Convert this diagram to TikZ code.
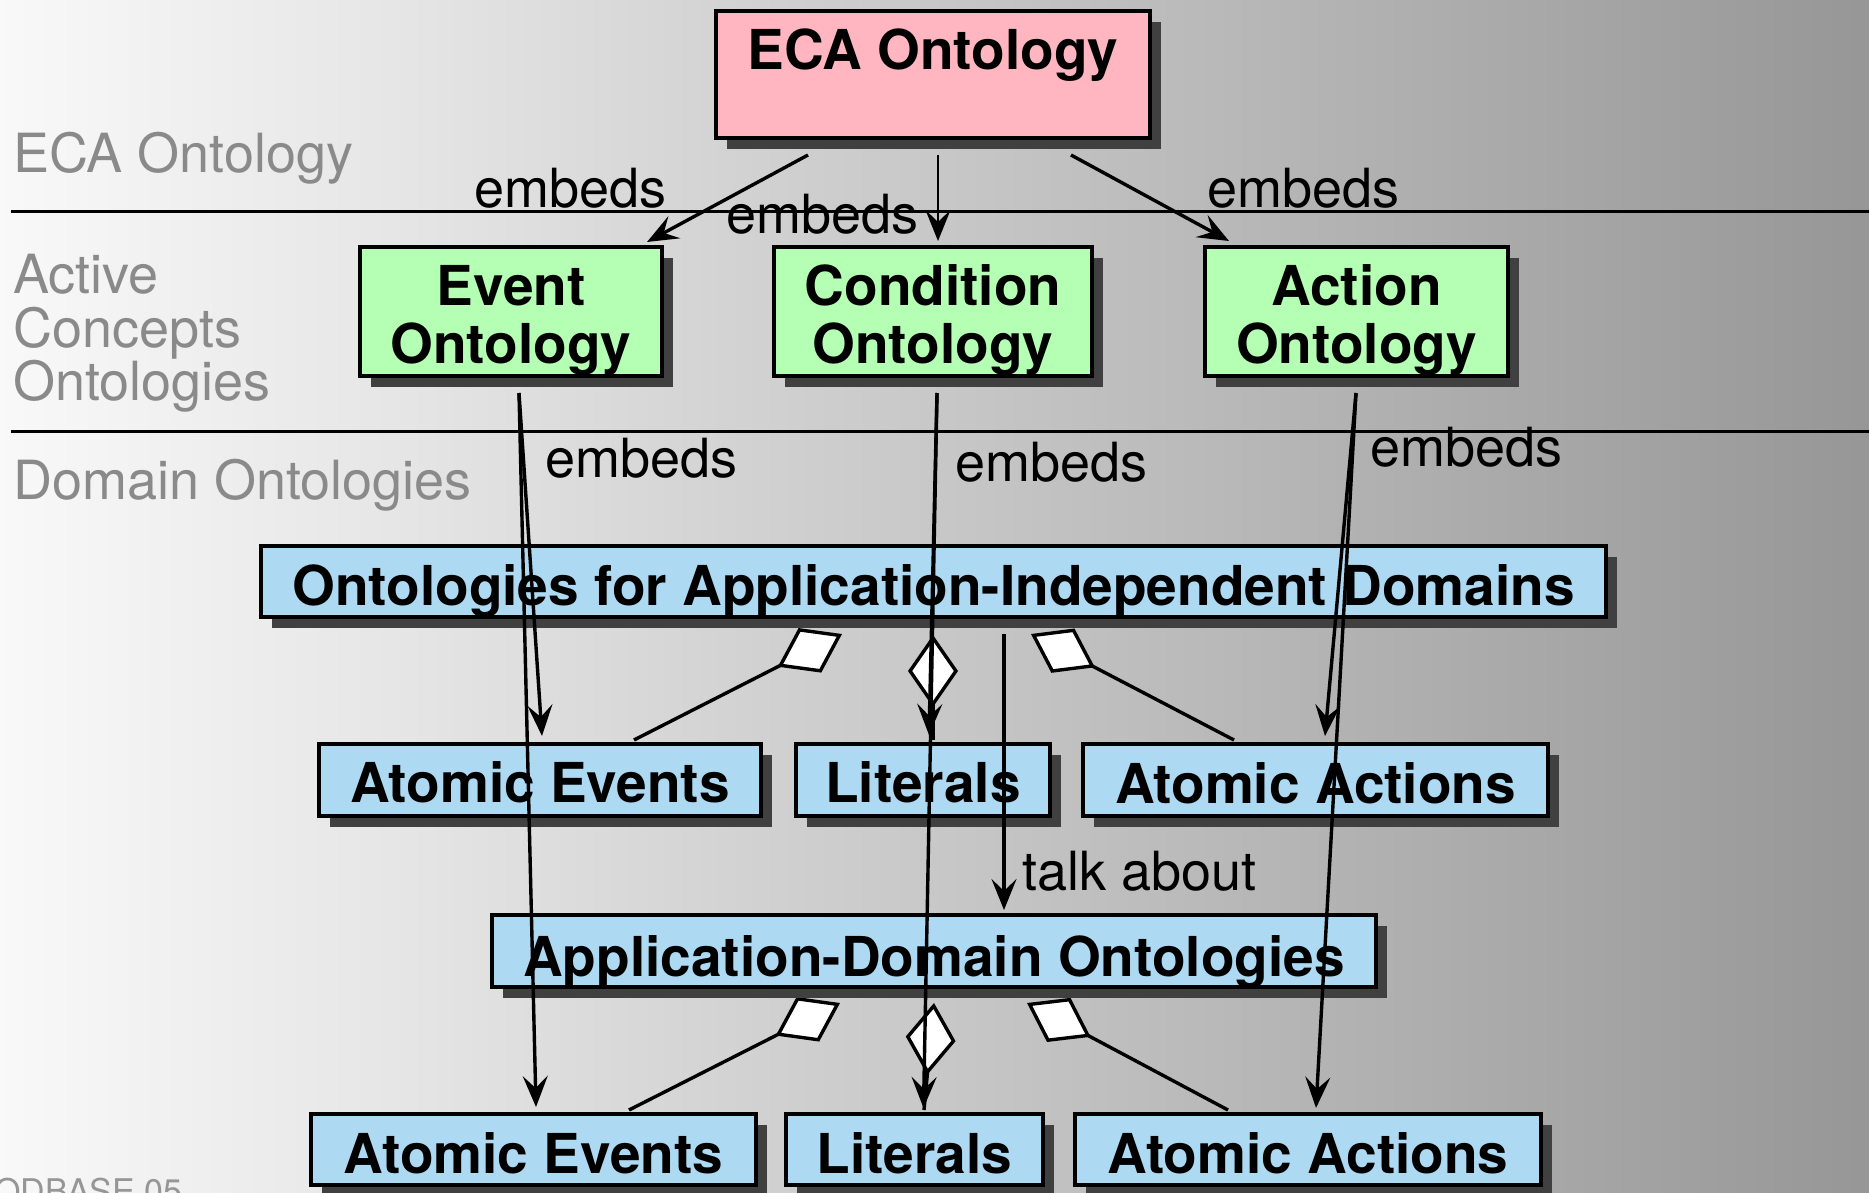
\documentclass[tikz,border=0pt]{standalone}
\usepackage{fontspec}
\setmainfont{TeX Gyre Heros}
\usetikzlibrary{arrows.meta,shadows}

\definecolor{ecapink}{RGB}{255,182,193}
\definecolor{conceptgreen}{RGB}{180,255,180}
\definecolor{domainblue}{RGB}{173,217,242}
\definecolor{boxshadow}{RGB}{64,64,64}
\definecolor{layergray}{RGB}{138,138,138}
\definecolor{footgray}{RGB}{150,150,150}
\definecolor{bgA}{gray}{0.975}
\definecolor{bgB}{gray}{0.90}
\definecolor{bgC}{gray}{0.81}
\definecolor{bgD}{gray}{0.59}
% TikZ fits the 25bp--75bp band of a shading to the filled path
\pgfdeclarehorizontalshading{backdrop}{100bp}{color(0bp)=(bgA); color(25bp)=(bgA); color(35.7bp)=(bgB); color(46.5bp)=(bgC); color(75bp)=(bgD); color(100bp)=(bgD)}

\newcommand\boxfont{\fontsize{55}{58}\selectfont\bfseries}
\newcommand\plainfont{\fontsize{54}{58}\selectfont}
\newcommand\footfont{\fontsize{34}{36}\selectfont}

\begin{document}
\begin{tikzpicture}[x=1pt,y=-1pt,
  boxbase/.style={draw=black, line width=4pt, inner sep=0pt,
    general shadow={fill=boxshadow, shadow xshift=11pt, shadow yshift=-11pt}},
  ecabox/.style={boxbase, fill=ecapink},
  conceptbox/.style={boxbase, fill=conceptgreen, minimum width=302pt, minimum height=129pt},
  domainbox/.style={boxbase, fill=domainblue, minimum height=72pt},
  boxtext/.style={inner sep=0pt, anchor=base, font=\boxfont},
  layername/.style={inner sep=0pt, anchor=base west, font=\plainfont, text=layergray},
  reltext/.style={inner sep=0pt, anchor=base west, font=\plainfont},
  embedarrow/.style={line width=3.4pt, -{Stealth[length=31pt,width=25pt,inset=12pt]}},
  partof/.style={line width=3.4pt, {Diamond[length=72pt,width=50pt,fill=white]}-},
  separator/.style={line width=3pt}
]
\useasboundingbox (0,0) rectangle (1869,1193);
\clip (0,0) rectangle (1869,1193);

% backdrop and layer separators
\fill[shading=backdrop] (0,0) rectangle (1869,1193);
\coordinate (sepAl) at (11,212);
\coordinate (sepAr) at (1869,212);
\coordinate (sepBl) at (11,431);
\coordinate (sepBr) at (1869,431);
\draw[separator] (sepAl) -- (sepAr);
\draw[separator] (sepBl) -- (sepBr);

% layer names
\node[layername] (lnEca) at (13,173) {ECA Ontology};
\node[layername] (lnAct1) at (13,293) {Active};
\node[layername] (lnAct2) at (13,347) {Concepts};
\node[layername] (lnAct3) at (13,400) {Ontologies};
\node[layername] (lnDom) at (13,499) {Domain Ontologies};
\node[inner sep=0pt, anchor=base west, font=\footfont, text=footgray] (foot) at (-6,1203) {ODBASE 05};

% boxes (geometry only; captions are set separately)
\node[ecabox, minimum width=434pt, minimum height=127pt] (eca) at (933,74.5) {};
\node[conceptbox] (ev) at (511,311.5) {};
\node[conceptbox, minimum width=318pt] (cond) at (933,311.5) {};
\node[conceptbox, minimum width=303pt] (act) at (1356.5,311.5) {};
\node[domainbox, minimum width=1345pt, minimum height=71pt] (ind) at (933.5,581.5) {};
\node[domainbox, minimum width=442pt] (ae1) at (540,780) {};
\node[domainbox, minimum width=254pt] (lit1) at (923,780) {};
\node[domainbox, minimum width=465pt] (aa1) at (1315.5,780) {};
\node[domainbox, minimum width=884pt] (app) at (934,951) {};
\node[domainbox, minimum width=445pt, minimum height=71pt] (ae2) at (533.5,1149.5) {};
\node[domainbox, minimum width=257pt, minimum height=71pt] (lit2) at (914.5,1149.5) {};
\node[domainbox, minimum width=466pt, minimum height=71pt] (aa2) at (1308,1149.5) {};

% aggregation: parts of the domain ontologies
\draw[partof] ([shift={(-91.5,15)}]ind.south) -- ([shift={(94,-2)}]ae1.north);
\draw[partof] ([shift={(-0.5,16)}]ind.south) -- ([shift={(10,-2)}]lit1.north);
\draw[partof] ([shift={(97.5,15)}]ind.south) -- ([shift={(-81.5,-2)}]aa1.north);
\draw[partof] ([shift={(-94,14)}]app.south) -- ([shift={(95.5,-2)}]ae2.north);
\draw[partof] ([shift={(0,14)}]app.south) -- ([shift={(9.5,-2)}]lit2.north);
\draw[partof] ([shift={(93,14)}]app.south) -- ([shift={(-80,-2)}]aa2.north);

% redraw boxes on top of the aggregation lines
\node[domainbox, minimum width=1345pt, minimum height=71pt] (indT) at (ind) {};
\node[domainbox, minimum width=442pt] (ae1T) at (ae1) {};
\node[domainbox, minimum width=254pt] (lit1T) at (lit1) {};
\node[domainbox, minimum width=465pt] (aa1T) at (aa1) {};
\node[domainbox, minimum width=884pt] (appT) at (app) {};
\node[domainbox, minimum width=445pt, minimum height=71pt] (ae2T) at (ae2) {};
\node[domainbox, minimum width=257pt, minimum height=71pt] (lit2T) at (lit2) {};
\node[domainbox, minimum width=466pt, minimum height=71pt] (aa2T) at (aa2) {};

% captions
\node[boxtext] (tEca) at (933,70) {ECA Ontology};
\node[boxtext] (tEv1) at (511,305) {Event};
\node[boxtext] (tEv2) at (511,363) {Ontology};
\node[boxtext] (tCo1) at (933,305) {Condition};
\node[boxtext] (tCo2) at (933,363) {Ontology};
\node[boxtext] (tAc1) at (1356.5,305) {Action};
\node[boxtext] (tAc2) at (1356.5,363) {Ontology};
\node[boxtext] (tInd) at (933.5,605) {Ontologies for Application-Independent Domains};
\node[boxtext] (tAe1) at (540,802) {Atomic Events};
\node[boxtext] (tLi1) at (923,802) {Literals};
\node[boxtext] (tAa1) at (1315.5,803) {Atomic Actions};
\node[boxtext] (tApp) at (934,976) {Application-Domain Ontologies};
\node[boxtext] (tAe2) at (533.5,1173) {Atomic Events};
\node[boxtext] (tLi2) at (914.5,1173) {Literals};
\node[boxtext] (tAa2) at (1308,1173) {Atomic Actions};

% embedding relations
\draw[embedarrow] ([shift={(-125,15)}]eca.south) -- ([shift={(136,-3)}]ev.north);
\draw[embedarrow, line width=2.6pt] ([shift={(5,15)}]eca.south) -- ([shift={(5,-4)}]cond.north);
\draw[embedarrow] ([shift={(138,15)}]eca.south) -- ([shift={(-127.5,-4)}]act.north);
\draw[embedarrow] ([shift={(8,15)}]ev.south) -- ([shift={(2,-6)}]ae1.north);
\draw[embedarrow] ([shift={(8,15)}]ev.south) -- ([shift={(2.5,-5)}]ae2.north);
\draw[embedarrow] ([shift={(4,15)}]cond.south) -- ([shift={(6,-7)}]lit1.north);
\draw[embedarrow] ([shift={(4,15)}]cond.south) -- ([shift={(9,-4)}]lit2.north);
\draw[embedarrow] ([shift={(-0.5,15)}]act.south) -- ([shift={(9.5,-6)}]aa1.north);
\draw[embedarrow] ([shift={(-0.5,15)}]act.south) -- ([shift={(8,-4)}]aa2.north);
\draw[embedarrow] ([shift={(70.5,15)}]ind.south) -- ([shift={(70,-3)}]app.north);

% relation labels
\node[reltext] (rE1) at (474,208) {embeds};
\node[reltext] (rE2) at (726,234) {embeds};
\node[reltext] (rE3) at (1207,208) {embeds};
\node[reltext] (rE4) at (545,477) {embeds};
\node[reltext] (rE5) at (955,481) {embeds};
\node[reltext] (rE6) at (1370,466) {embeds};
\node[reltext] (rTalk) at (1022,890) {talk about};
\end{tikzpicture}
\end{document}
